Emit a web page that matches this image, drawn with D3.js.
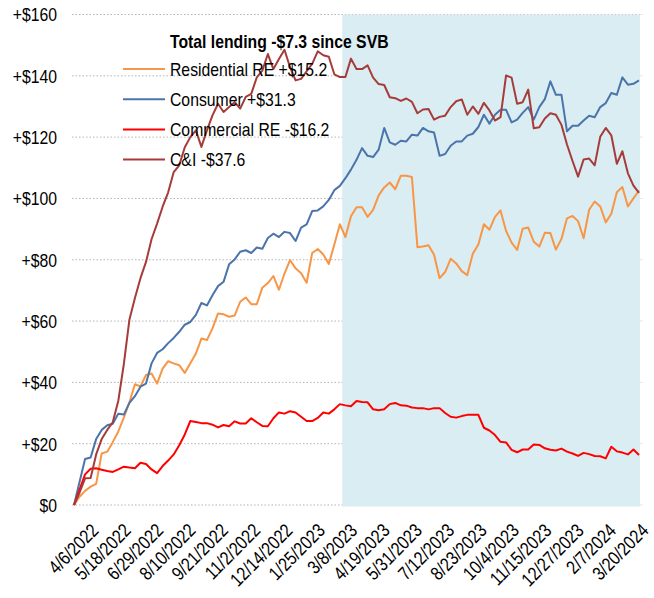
<!DOCTYPE html>
<html><head><meta charset="utf-8">
<script src="https://cdn.jsdelivr.net/npm/d3@7"></script>
<style>
html,body{margin:0;padding:0;background:#fff;}
svg{display:block;font-family:"Liberation Sans",Arial,sans-serif;}
</style></head><body>
<svg id="chart" width="654" height="598"></svg>
<script>
// ---- data ----
const startDate = "2022-04-06";       // first weekly observation
const shadeStart = "2023-03-11";      // SVB
const chartTitle = "Total lending -$7.3 since SVB";
const seriesNames = ["Residential RE +$15.2", "Consumer +$31.3", "Commercial RE -$16.2", "C&I -$37.6"];
const seriesColors = ["#F79646", "#4A74AA", "#FF0000", "#A63C3A"];

const residential = [0,2.7,4.6,6.0,6.9,16.8,17.4,20.5,24,28.5,
  33.5,39.4,38.7,42.4,42.9,39.6,44.5,46.9,46.2,45.6,
  43.1,46.2,49.4,54.3,53.8,57.6,62.5,62.2,61.4,61.8,
  66.3,67.7,65.5,65.5,70.9,72.4,74.7,70.2,75.5,79.9,
  77.2,75.6,72.5,82.2,83.5,81.7,78.6,85,91.6,87.4,
  94.2,97.1,97.1,94,96.3,101,103.6,105.2,103,107.4,
  107.4,107,84.1,84.3,84.7,81.6,74,76,80.3,78.8,
  76.3,75,82,85,91.6,89.8,94,96.1,89.4,85.6,
  83.2,90.1,90.5,85.9,84.3,88.8,88.7,83.3,86.8,93.5,
  94.3,92.6,87,96.3,99,97.4,92.2,95,102,103.7,
  97.4,100,102.6];

const consumer = [0,7.5,15,15.5,21.5,24.5,26,26.5,29.8,29.5,
  33.3,35.5,38.6,39.6,46.2,49.6,50.8,52.8,54.5,56.5,
  58.8,59.7,62,65.9,65.1,68.4,71.4,72.8,78.5,80.1,
  82.6,83.1,82.2,84,83.6,87.1,88.5,87.4,89.1,88.7,
  86.1,90.5,91.5,95.9,96.1,97.4,99.5,102.7,104.1,106.6,
  109.4,112.6,116.4,113.9,113.5,115.9,123,118.3,117.5,118.8,
  118.6,120.8,120.5,123,121.9,121.5,113.9,114.5,117.2,118.6,
  118.6,120.5,121.1,123.3,127.3,124.4,127.3,128.9,128.9,124.8,
  125.7,127.9,129.8,125.7,129.8,132.4,138.2,133.8,133.8,121.9,
  123.7,123.7,125.4,127,126.5,129.8,131.1,134.4,133.8,139.5,
  137.1,137.4,138.5];

const commercialRE = [0,5,10,11.8,12,11.5,11.1,10.8,11.6,12.5,
  12.2,12,13.8,13.4,11.6,10.4,12.7,14.5,16.5,19.5,
  23,27.4,27.1,26.7,26.7,26.2,25.3,26.1,25.7,27.3,
  26.6,26.6,28.3,27,25.8,25.7,28.3,30.2,29.8,30.6,
  30.2,28.8,27.4,27.4,28.4,30.2,29.8,31.2,32.9,32.5,
  32.2,33.9,33.6,33.5,31.2,30.9,31.2,32.9,33.3,32.5,
  32.4,31.8,31.6,31.6,31.2,31.6,31.6,30,28.8,28.5,
  29,29.4,29.4,29.4,25.2,24.3,22.8,20.6,20.4,18,
  17.2,18.1,18.1,19.7,19.6,18.5,18,17.8,18.4,17.4,
  16.8,16,17,16.6,16,15.9,15.2,19,17.5,17.1,
  16.5,18.1,16.3];

const cAndI = [0,4,8.7,8.8,16.5,21.5,24.5,27,34,46,
  60.4,67.5,74,79.3,86.7,91.8,97.3,102,108.6,110.8,
  116.7,120,122.2,116.8,122.2,127.1,130.9,128.2,129.8,131.4,
  129.3,133.1,134.1,139.5,141.7,147.1,142.2,145.5,148.5,142.8,
  138.5,139,141.5,143.9,148,146.7,146.2,140.5,139.6,139.6,
  145.6,142.2,142.2,143.4,139.4,137.3,137,133,132.7,131.8,
  132.6,131.5,127.8,129,129.2,125.7,126.6,127,129.8,131.7,
  132.3,127.3,130,127.6,131.2,128.7,125.4,126.5,140.1,139.4,
  130.9,131.4,135.5,122.9,123.2,126.1,127.8,127.3,124,117.6,
  112.2,107.1,112.7,113,110.8,120.1,123,120.6,111.3,115.4,
  108.2,104.2,101.8];

const yTicks = [0,20,40,60,80,100,120,140,160];
const yTickLabels = ["$0","+$20","+$40","+$60","+$80","+$100","+$120","+$140","+$160"];
const xTickLabels = ["4/6/2022","5/18/2022","6/29/2022","8/10/2022","9/21/2022","11/2/2022",
  "12/14/2022","1/25/2023","3/8/2023","4/19/2023","5/31/2023","7/12/2023","8/23/2023",
  "10/4/2023","11/15/2023","12/27/2023","2/7/2024","3/20/2024"];

// ---- build ----
const allSeries = [residential, consumer, commercialRE, cAndI];
const parse = d3.utcParse("%Y-%m-%d");
const t0 = parse(startDate);
const dates = residential.map((_, i) => d3.utcDay.offset(t0, 7 * i));

const svg = d3.select("#chart");
const x = d3.scaleUtc().domain([dates[0], dates[dates.length - 1]]).range([74, 639]);
const y = d3.scaleLinear().domain([0, 160]).range([505, 14.5]);
const fontSize = 19;
const narrow = 0.83;   // emulate a narrow face

// gridlines
svg.append("g").selectAll("line").data(yTicks).join("line")
  .attr("x1", 72).attr("x2", 643)
  .attr("y1", d => y(d)).attr("y2", d => y(d))
  .attr("stroke", "#b3b3b3").attr("stroke-width", 1).attr("stroke-dasharray", "1.5,2");

// SVB shade
svg.append("rect")
  .attr("x", x(parse(shadeStart))).attr("y", y(160))
  .attr("width", 640 - x(parse(shadeStart))).attr("height", y(0) - y(160) + 1.5)
  .attr("fill", "#DAEDF2");

// y labels
svg.append("g").selectAll("text").data(yTicks).join("text")
  .attr("transform", d => `translate(57,${y(d)}) scale(${narrow},1)`)
  .attr("dy", "0.36em")
  .attr("text-anchor", "end").attr("font-size", fontSize).attr("fill", "#000")
  .text((d, i) => yTickLabels[i]);

// x labels (rotated)
const labelPos = d3.scalePoint().domain(xTickLabels).range([90, 640]);
svg.append("g").selectAll("text").data(xTickLabels).join("text")
  .attr("transform", d => `translate(${labelPos(d)},522) rotate(-45) scale(${narrow},1)`)
  .attr("dy", "0.72em").attr("text-anchor", "end")
  .attr("font-size", fontSize).attr("fill", "#000")
  .text(d => d);

// lines
const line = d3.line().x((d, i) => x(dates[i])).y(d => y(d));
svg.append("g").selectAll("path").data(allSeries).join("path")
  .attr("d", d => line(d)).attr("fill", "none")
  .attr("stroke", (d, i) => seriesColors[i]).attr("stroke-width", 2)
  .attr("stroke-linejoin", "round");

// legend
svg.append("text").attr("transform", `translate(170,48) scale(${narrow},1)`)
  .attr("font-size", fontSize).attr("font-weight", "bold").attr("fill", "#000")
  .text(chartTitle);
const lg = svg.append("g").selectAll("g").data(seriesNames).join("g")
  .attr("transform", (d, i) => `translate(0,${69 + i * 30.2})`);
lg.append("line").attr("x1", 123).attr("x2", 165).attr("y1", 0).attr("y2", 0)
  .attr("stroke", (d, i) => seriesColors[i]).attr("stroke-width", 2);
lg.append("text").attr("transform", `translate(170,0) scale(${narrow},1)`)
  .attr("dy", "0.36em")
  .attr("font-size", fontSize).attr("fill", "#000").text(d => d);
</script>
</body></html>
